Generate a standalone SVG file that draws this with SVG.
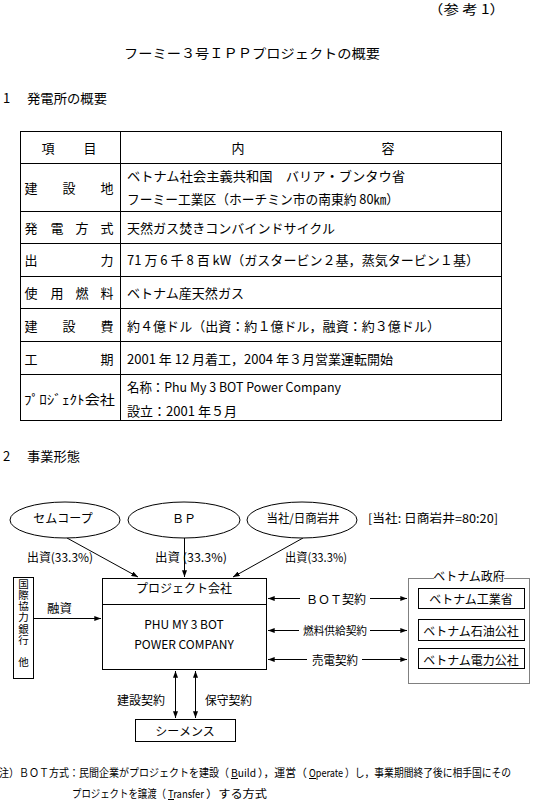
<svg xmlns="http://www.w3.org/2000/svg" width="534" height="800" viewBox="0 0 534 800">
<style>
text{font-family:"Noto Sans CJK JP","Noto Sans",sans-serif;font-size:13px;fill:#000;dominant-baseline:central}
.s{font-size:12px}
.xs{font-size:11px}
.v{font-size:10.5px;writing-mode:vertical-rl;text-orientation:upright}
.c{text-anchor:middle}
.ln{stroke:#000;stroke-width:1;fill:none}
.box{stroke:#000;stroke-width:1;fill:#fff}
</style>
<defs>
<marker id="ah" viewBox="0 0 8 6" refX="8" refY="3" markerWidth="7" markerHeight="5" markerUnits="userSpaceOnUse" orient="auto-start-reverse"><path d="M0,0 L8,3 L0,6 z" fill="#000"/></marker>
</defs>
<rect width="534" height="800" fill="#fff"/>
<g id="header">
<text x="428" y="8" textLength="77" lengthAdjust="spacingAndGlyphs">（参 考 1）</text>
<text x="124" y="52" textLength="256" lengthAdjust="spacingAndGlyphs">フーミー３号ＩＰＰプロジェクトの概要</text>
<text x="3" y="97">1</text>
<text x="27" y="97" textLength="80" lengthAdjust="spacingAndGlyphs">発電所の概要</text>
<text x="3" y="455">2</text>
<text x="27" y="455" textLength="53" lengthAdjust="spacingAndGlyphs">事業形態</text>
</g>
<g id="table">
<rect x="20.5" y="131.5" width="481" height="289" class="ln"/>
<path class="ln" d="M120.5,131.5V420.5M20.5,163.5H501.5M20.5,211.5H501.5M20.5,243.5H501.5M20.5,276.5H501.5M20.5,308.5H501.5M20.5,341.5H501.5M20.5,374.5H501.5"/>
<text class="c" x="48" y="147">項</text><text class="c" x="90" y="147">目</text>
<text class="c" x="238" y="147">内</text><text class="c" x="388" y="147">容</text>
<text class="c" x="31" y="187">建</text><text class="c" x="69" y="187">設</text><text class="c" x="107" y="187">地</text>
<text x="127" y="175" textLength="278" lengthAdjust="spacingAndGlyphs">ベトナム社会主義共和国　バリア・ブンタウ省</text>
<text x="127" y="198" textLength="272" lengthAdjust="spacingAndGlyphs">フーミー工業区（ホーチミン市の南東約 80㎞）</text>
<text class="c" x="31" y="227">発</text><text class="c" x="57" y="227">電</text><text class="c" x="82" y="227">方</text><text class="c" x="107" y="227">式</text>
<text x="127" y="227" textLength="208" lengthAdjust="spacingAndGlyphs">天然ガス焚きコンバインドサイクル</text>
<text class="c" x="31" y="259">出</text><text class="c" x="107" y="259">力</text>
<text x="127" y="259" textLength="352" lengthAdjust="spacingAndGlyphs">71 万 6 千 8 百 kW（ガスタービン２基，蒸気タービン１基）</text>
<text class="c" x="31" y="292">使</text><text class="c" x="57" y="292">用</text><text class="c" x="82" y="292">燃</text><text class="c" x="107" y="292">料</text>
<text x="127" y="292" textLength="117" lengthAdjust="spacingAndGlyphs">ベトナム産天然ガス</text>
<text class="c" x="31" y="325">建</text><text class="c" x="69" y="325">設</text><text class="c" x="107" y="325">費</text>
<text x="127" y="325" textLength="313" lengthAdjust="spacingAndGlyphs">約４億ドル（出資：約１億ドル，融資：約３億ドル）</text>
<text class="c" x="31" y="358">工</text><text class="c" x="107" y="358">期</text>
<text x="127" y="358" textLength="266" lengthAdjust="spacingAndGlyphs">2001 年 12 月着工，2004 年３月営業運転開始</text>
<text x="24" y="398" textLength="91" lengthAdjust="spacingAndGlyphs">ﾌﾟﾛｼﾞｪｸﾄ会社</text>
<text x="127" y="386" textLength="214" lengthAdjust="spacingAndGlyphs">名称：Phu My 3 BOT Power Company</text>
<text x="127" y="410" textLength="110" lengthAdjust="spacingAndGlyphs">設立：2001 年５月</text>
</g>
<g id="connectors">
<line class="ln" x1="67" y1="538" x2="138" y2="577" marker-end="url(#ah)"/>
<line class="ln" x1="184.5" y1="538" x2="184.5" y2="577" marker-end="url(#ah)"/>
<line class="ln" x1="303" y1="538" x2="233" y2="577" marker-end="url(#ah)"/>
<line class="ln" x1="34" y1="618.5" x2="101" y2="618.5" marker-end="url(#ah)"/>
<line class="ln" x1="300" y1="598.5" x2="268" y2="598.5" marker-end="url(#ah)"/>
<line class="ln" x1="370" y1="598.5" x2="407" y2="598.5" marker-end="url(#ah)"/>
<line class="ln" x1="299" y1="630.5" x2="268" y2="630.5" marker-end="url(#ah)"/>
<line class="ln" x1="370" y1="630.5" x2="407" y2="630.5" marker-end="url(#ah)"/>
<line class="ln" x1="307" y1="659.5" x2="268" y2="659.5" marker-end="url(#ah)"/>
<line class="ln" x1="362" y1="659.5" x2="407" y2="659.5" marker-end="url(#ah)"/>
<line class="ln" x1="175.5" y1="671" x2="175.5" y2="718" marker-start="url(#ah)" marker-end="url(#ah)"/>
<line class="ln" x1="195.5" y1="671" x2="195.5" y2="718" marker-start="url(#ah)" marker-end="url(#ah)"/>
<text class="s" x="27" y="556" textLength="66" lengthAdjust="spacingAndGlyphs">出資(33.3%)</text>
<text class="s" x="155" y="556" textLength="72" lengthAdjust="spacingAndGlyphs">出資 (33.3%)</text>
<text class="s" x="285" y="556" textLength="62" lengthAdjust="spacingAndGlyphs">出資(33.3%)</text>
<text class="s" x="47" y="607" textLength="25" lengthAdjust="spacingAndGlyphs">融資</text>
<text class="s c" x="336" y="598">ＢＯＴ契約</text>
<text class="xs" x="303" y="630" textLength="64" lengthAdjust="spacingAndGlyphs">燃料供給契約</text>
<text class="s" x="312" y="659" textLength="46" lengthAdjust="spacingAndGlyphs">売電契約</text>
<text class="s" x="117" y="699" textLength="48" lengthAdjust="spacingAndGlyphs">建設契約</text>
<text class="s" x="205" y="699" textLength="47" lengthAdjust="spacingAndGlyphs">保守契約</text>
</g>
<g id="semcorp"><ellipse class="box" cx="65" cy="520" rx="55" ry="18"/><text class="s c" x="63" y="517">セムコープ</text></g>
<g id="bp"><ellipse class="box" cx="184" cy="520" rx="56" ry="18"/><text class="s c" x="184" y="517">ＢＰ</text></g>
<g id="nissho"><ellipse class="box" cx="302" cy="520" rx="55" ry="18"/><text class="s c" x="303" y="517" textLength="73" lengthAdjust="spacingAndGlyphs">当社/日商岩井</text></g>
<g id="ratio"><text class="s" x="368" y="517" textLength="130" lengthAdjust="spacingAndGlyphs">[当社: 日商岩井=80:20]</text></g>
<g id="project">
<rect class="box" x="102.5" y="578.5" width="164" height="91"/>
<line class="ln" x1="102.5" y1="604.5" x2="266.5" y2="604.5"/>
<text class="s c" x="184" y="587">プロジェクト会社</text>
<text class="s c" x="184" y="623">PHU MY 3 BOT</text>
<text class="s c" x="184" y="643">POWER COMPANY</text>
</g>
<g id="jbic">
<rect class="box" x="13.5" y="577.5" width="20" height="101"/>
<text class="v" x="23.5" y="579" textLength="88" lengthAdjust="spacing">国際協力銀行　他</text>
</g>
<g id="vietnam-gov">
<rect x="408.5" y="578.5" width="121" height="105" fill="none" stroke="#000" stroke-width="1" stroke-dasharray="1,1"/>
<rect x="434" y="570" width="70" height="12" fill="#fff"/>
<text class="s c" x="469" y="575">ベトナム政府</text>
</g>
<g id="moi"><rect class="box" x="418.5" y="588.5" width="106" height="20"/><text class="s c" x="471" y="598">ベトナム工業省</text></g>
<g id="petro"><rect class="box" x="418.5" y="619.5" width="106" height="21"/><text class="s c" x="471" y="630">ベトナム石油公社</text></g>
<g id="evn"><rect class="box" x="418.5" y="648.5" width="106" height="20"/><text class="s c" x="471" y="659">ベトナム電力公社</text></g>
<g id="siemens"><rect class="box" x="135.5" y="719.5" width="100" height="22"/><text class="s c" x="185" y="730">シーメンス</text></g>
<g id="note">
<text class="xs" x="-1" y="772" textLength="230" lengthAdjust="spacingAndGlyphs">注）ＢＯＴ方式：民間企業がプロジェクトを建設（</text>
<text class="xs" x="231" y="772" textLength="25" lengthAdjust="spacingAndGlyphs">Build</text>
<text class="xs" x="258" y="772" textLength="49" lengthAdjust="spacingAndGlyphs">），運営（</text>
<text class="xs" x="309" y="772" textLength="34" lengthAdjust="spacingAndGlyphs">Operate</text>
<text class="xs" x="345" y="772" textLength="166" lengthAdjust="spacingAndGlyphs">）し，事業期間終了後に相手国にその</text>
<text class="xs" x="72" y="793" textLength="94" lengthAdjust="spacingAndGlyphs">プロジェクトを譲渡（</text>
<text class="xs" x="168" y="793" textLength="36" lengthAdjust="spacingAndGlyphs">Transfer</text>
<text class="xs" x="206" y="793" textLength="61" lengthAdjust="spacingAndGlyphs">）する方式</text>
<path class="ln" d="M231,778.5H238M309,778.5H316M168,799.5H174"/>
</g>
</svg>
